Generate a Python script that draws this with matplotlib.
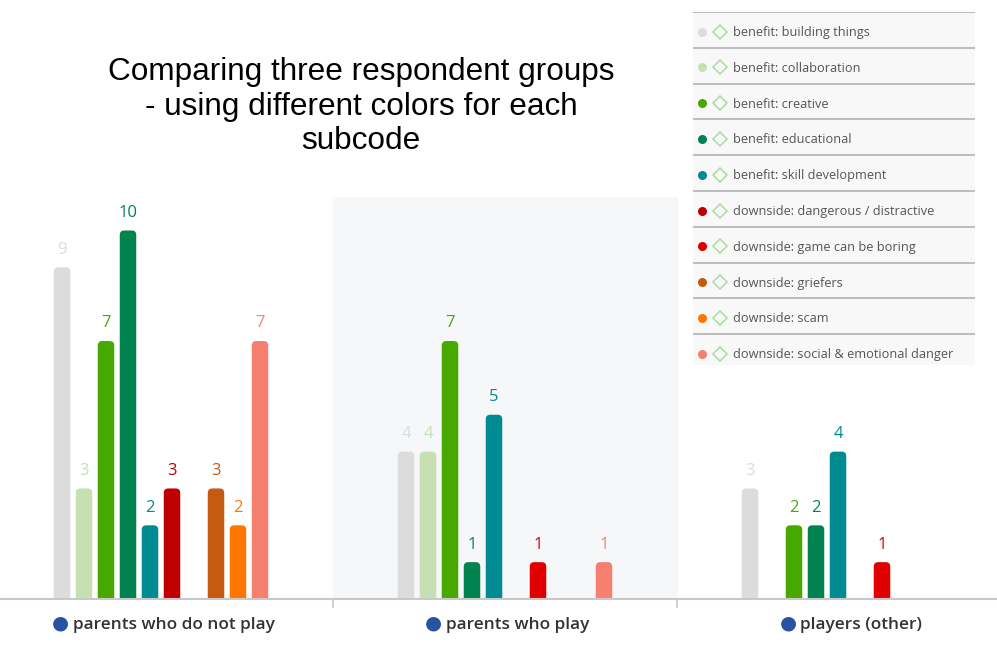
import matplotlib
matplotlib.use("Agg")
import matplotlib.pyplot as plt
from matplotlib.patches import Rectangle, FancyBboxPatch
import numpy as np

groups = ["parents who do not play", "parents who play", "players (other)"]
subcodes = ["benefit: building things", "benefit: collaboration", "benefit: creative",
            "benefit: educational", "benefit: skill development",
            "downside: dangerous / distractive", "downside: game can be boring",
            "downside: griefers", "downside: scam", "downside: social & emotional danger"]
colors = ["#dcdcdc", "#c6e0b4", "#47a800", "#00834f", "#008b93",
          "#c00000", "#e00000", "#c55a11", "#ff7700", "#f58070"]
values = {
    "benefit: building things": [9, 4, 3],
    "benefit: collaboration": [3, 4, 0],
    "benefit: creative": [7, 7, 2],
    "benefit: educational": [10, 1, 2],
    "benefit: skill development": [2, 5, 4],
    "downside: dangerous / distractive": [3, 0, 0],
    "downside: game can be boring": [0, 1, 1],
    "downside: griefers": [3, 0, 0],
    "downside: scam": [2, 0, 0],
    "downside: social & emotional danger": [7, 1, 0],
}
title = "Comparing three respondent groups\n- using different colors for each\nsubcode"

W, H = 997, 657
fig = plt.figure(figsize=(W/100, H/100), dpi=100)
fig.patch.set_facecolor("white")

# plot area in pixels
ax_top, ax_bot = 197, 599
ax = fig.add_axes([0, (H-ax_bot)/H, 1, (ax_bot-ax_top)/H])
px_per_group = 344.0
center0 = 161.0
ax.set_xlim(-center0/px_per_group, (W-center0)/px_per_group)
ppu = 36.85
ax.set_ylim(0, (ax_bot-ax_top)/ppu)
ax.axis("off")

# shaded band behind middle category
ax.axvspan(0.5, 1.5, color="#f5f7f9", zorder=0)

n = len(subcodes)
step = 22.0/px_per_group
bw = 16.5/px_per_group
x = np.arange(len(groups))
rad_px = 4.5
r = rad_px/px_per_group
aspect = px_per_group/ppu
for i, sc in enumerate(subcodes):
    off = (i - (n-1)/2) * step
    vals = values[sc]
    bars = ax.bar(x + off, vals, width=bw, color=colors[i], zorder=2)
    for rect in bars:
        h = rect.get_height()
        if h <= 0:
            continue
        rect.set_visible(False)
        p = FancyBboxPatch((rect.get_x(), -1), rect.get_width(), h + 1,
                           boxstyle=f"round,pad=0,rounding_size={r}",
                           mutation_aspect=aspect, fc=colors[i], ec="none",
                           zorder=2, clip_on=True)
        ax.add_patch(p)
    for xi, v in zip(x, vals):
        if v > 0:
            ax.text(xi + off, v + 0.26, str(v), ha="center", va="bottom",
                    color=colors[i], fontsize=12, family="Open Sans", zorder=3)

# axis line and ticks
ax.axhline(0, color="#c8c8c8", lw=1.5, zorder=4, clip_on=False)
for b in [0.5, 1.5]:
    ax.plot([b, b], [0, -8/ppu], color="#c8c8c8", lw=1.2, clip_on=False)

# category labels
for xi, g in zip(x, groups):
    ax.annotate(g, xy=(xi, 0), xytext=(9, -19), textcoords="offset points",
                ha="center", va="center", fontsize=12.4, fontweight="semibold",
                family="Open Sans", color="#333333", annotation_clip=False)
fig.canvas.draw()
rend = fig.canvas.get_renderer()
for t in ax.texts:
    if t.get_text() in groups:
        bb = t.get_window_extent(rend)
        fig.text((bb.x0 - 12.5)/W, (bb.y0 + bb.y1)/2/H + 2.5/H, "\u25cf", color="#2952a3",
                 fontsize=14, ha="center", va="center", family="DejaVu Sans")

# title
fig.text(361/W, 1 - 106.5/H, title, ha="center", va="center", fontsize=22.7,
         family="Liberation Sans", color="black", linespacing=1.19)

# legend
lx0, lx1, ly0, ly1 = 693, 975, 12, 365
lax = fig.add_axes([lx0/W, (H-ly1)/H, (lx1-lx0)/W, (ly1-ly0)/H])
lax.set_xlim(0, lx1-lx0)
lax.set_ylim(ly1-ly0, 0)
lax.axis("off")
lax.add_patch(Rectangle((0, 0), lx1-lx0, ly1-ly0, color="#f8f8f8", zorder=0))
rh = 35.8
for i, sc in enumerate(subcodes):
    y0 = i*rh
    lax.plot([0, lx1-lx0], [y0, y0], color="#b8b8b8", lw=1.3)
    cy = y0 + 19.5
    lax.plot(9, cy, "o", color=colors[i], ms=6.5, mec="none")
    lax.plot(27, cy, "D", mfc="none", mec="#a9dba0", ms=7.5, mew=1.1)
    lax.text(40, cy + 1, sc, va="center", ha="left", fontsize=9.2,
             family="Open Sans", color="#555555")

fig.savefig("out.png", dpi=100)
